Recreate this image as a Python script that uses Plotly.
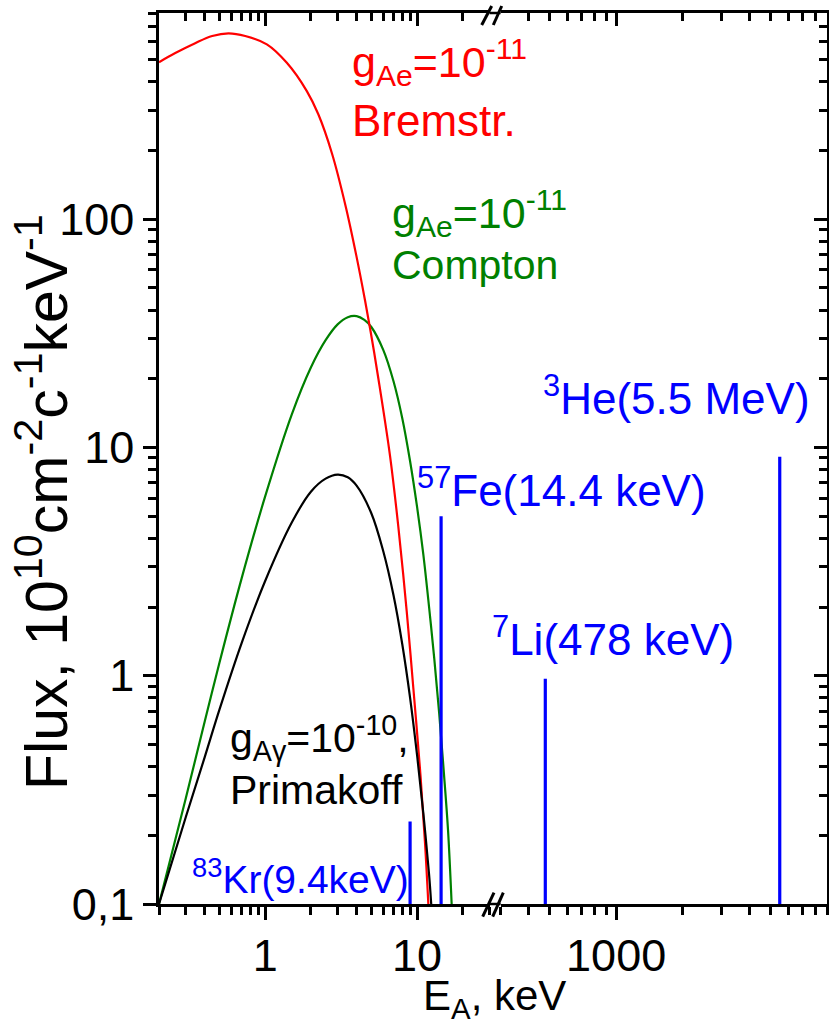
import math
import plotly.graph_objects as go

# ---------------- data ----------------
# Bremsstrahlung, g_Ae = 1e-11  (E in keV, flux in 1e10 cm^-2 s^-1 keV^-1)
brem_E = [0.2, 0.256, 0.346, 0.448, 0.574, 0.739, 1.026, 1.389, 1.881, 2.239, 2.754,
          3.388, 3.981, 4.55, 5.06, 5.56, 6.64, 7.53, 8.55, 9.46, 10.46, 11.29, 11.87]
brem_F = [487, 534, 590, 634, 651, 634, 583, 484, 364, 288, 194,
          114, 69.4, 43.9, 29.5, 20.1, 9.19, 4.5, 1.92, 0.879, 0.39, 0.184, 0.1]

# Compton, g_Ae = 1e-11
comp_E = [0.2, 0.3, 0.4, 0.5, 0.7, 1.0, 1.5, 2.0, 2.5, 3.0, 3.5, 4.0, 4.5, 5.0, 6.0,
          7.0, 8.0, 9.0, 10.0, 11.0, 12.0, 13.0, 14.0, 15.0, 16.0, 16.9]
comp_F = [0.1, 0.29, 0.63, 1.14, 2.67, 6.1, 14.0, 22.4, 29.5, 34.6, 37.2, 37.6, 36.2, 33.7, 26.7,
          19.5, 13.4, 8.7, 5.5, 3.4, 2.0, 1.18, 0.68, 0.38, 0.21, 0.1]

# Primakoff, g_Agamma = 1e-10
prim_E = [0.2, 0.3, 0.4, 0.5, 0.7, 1.0, 1.5, 2.0, 2.5, 3.0, 3.5, 4.0, 5.0, 6.0, 7.0,
          8.0, 9.0, 10.0, 11.0, 12.0, 12.4]
prim_F = [0.1, 0.24, 0.44, 0.71, 1.39, 2.6, 4.7, 6.4, 7.3, 7.6, 7.4, 6.8, 5.15, 3.5, 2.25,
          1.37, 0.80, 0.45, 0.25, 0.135, 0.1]

# monochromatic lines
lines_low_E = [9.0, 14.4]        # 83Kr, 57Fe
lines_low_F = [0.23, 5.0]
lines_high_E = [478, 5500]       # 7Li, 3He
lines_high_F = [0.97, 9.1]

# axis ranges / ticks
x_left_range = [0.2, 30]
x_right_range = [300, 9000]
y_range = [0.1, 800]
x_left_ticks = [1, 10]
x_right_ticks = [1000]
y_ticks = [0.1, 1, 10, 100]
y_ticktext = ["0,1", "1", "10", "100"]

FONT = "Liberation Sans, Arial, sans-serif"
RED, GREEN, BLACK, BLUE = "#ff0000", "#008000", "#000000", "#0000ff"

W, H = 829, 1020
L, R, T, B = 159, 2, 13, 116
PW, PH = W - L - R, H - T - B


def px(x):
    return (x - L) / PW


def py(y):
    return (H - B - y) / PH


DOM1 = [0, px(489.5)]
DOM2 = [px(500.6), 1]


def minor_vals(lo, hi):
    out = []
    d = 10 ** math.floor(math.log10(lo))
    while d <= hi:
        for k in range(1, 10):
            v = k * d
            if lo <= v <= hi:
                out.append(v)
        d *= 10
    return out


fig = go.Figure()

fig.add_trace(go.Scatter(x=comp_E, y=comp_F, mode="lines", line=dict(color=GREEN, width=2.2, shape="spline"),
                         xaxis="x", yaxis="y", showlegend=False))
fig.add_trace(go.Scatter(x=brem_E, y=brem_F, mode="lines", line=dict(color=RED, width=2.2, shape="spline"),
                         xaxis="x", yaxis="y", showlegend=False))
fig.add_trace(go.Scatter(x=prim_E, y=prim_F, mode="lines", line=dict(color=BLACK, width=2.2, shape="spline"),
                         xaxis="x", yaxis="y", showlegend=False))
for e, f in zip(lines_low_E, lines_low_F):
    fig.add_trace(go.Scatter(x=[e, e], y=[y_range[0], f], mode="lines", line=dict(color=BLUE, width=3.2),
                             xaxis="x", yaxis="y", showlegend=False))
for e, f in zip(lines_high_E, lines_high_F):
    fig.add_trace(go.Scatter(x=[e, e], y=[y_range[0], f], mode="lines", line=dict(color=BLUE, width=3.2),
                             xaxis="x2", yaxis="y", showlegend=False))
# empty traces to register mirror axes
for xa, ya in [("x3", "y"), ("x4", "y"), ("x2", "y2")]:
    fig.add_trace(go.Scatter(x=[None], y=[None], xaxis=xa, yaxis=ya, showlegend=False, hoverinfo="skip"))

LW = 2.5
tickfont = dict(family=FONT, size=45, color="black")
base = dict(type="log", showline=True, linecolor="black", linewidth=LW, showgrid=False, zeroline=False,
            tickcolor="black", tickwidth=LW, tickfont=tickfont)


def xaxis(dom, rng, ticks, side, tdir, labels, anchor, overlay=None):
    mv = [v for v in minor_vals(rng[0], rng[1]) if v not in ticks]
    d = dict(base, domain=dom, range=[math.log10(rng[0]), math.log10(rng[1])], tickmode="array",
             tickvals=ticks, ticktext=[f"{t:g}" for t in ticks], ticks=tdir, ticklen=13, side=side,
             showticklabels=labels, anchor=anchor, ticklabelstandoff=-3,
             minor=dict(tickmode="array", tickvals=mv, ticks=tdir, ticklen=8, tickwidth=LW,
                        tickcolor="black", showgrid=False))
    if overlay:
        d["overlaying"] = overlay
    return d


def yaxis(side, tdir, labels, anchor, overlay=None):
    mv = [v for v in minor_vals(y_range[0], y_range[1]) if v not in y_ticks]
    d = dict(base, range=[math.log10(y_range[0]), math.log10(y_range[1])], tickmode="array",
             tickvals=y_ticks, ticktext=y_ticktext, ticks=tdir, ticklen=13, side=side,
             showticklabels=labels, anchor=anchor, domain=[0, 1],
             minor=dict(tickmode="array", tickvals=mv, ticks=tdir, ticklen=8, tickwidth=LW,
                        tickcolor="black", showgrid=False))
    if overlay:
        d["overlaying"] = overlay
    return d


fig.update_layout(
    width=W, height=H, margin=dict(l=L, r=R, t=T, b=B),
    paper_bgcolor="white", plot_bgcolor="white",
    xaxis=xaxis(DOM1, x_left_range, x_left_ticks, "bottom", "outside", True, "y"),
    xaxis2=xaxis(DOM2, x_right_range, x_right_ticks, "bottom", "outside", True, "y"),
    xaxis3=xaxis(DOM1, x_left_range, x_left_ticks, "top", "inside", False, "y", "x"),
    xaxis4=xaxis(DOM2, x_right_range, x_right_ticks, "top", "inside", False, "y", "x2"),
    yaxis=yaxis("left", "outside", True, "x"),
    yaxis2=yaxis("right", "inside", False, "x2", "y"),
)

# axis lines across the break and break marks
shapes = []
for yy in [0, 1]:
    shapes.append(dict(type="line", xref="paper", yref="paper", x0=DOM1[1], x1=DOM2[0], y0=yy, y1=yy,
                       line=dict(color="black", width=LW)))
for (x0, y0, x1, y1) in [(482.7, 916.7, 494.0, 892.7), (492.7, 916.7, 503.3, 892.7),
                         (481.7, 25.0, 491.7, 6.0), (493.3, 25.0, 501.7, 6.0)]:
    shapes.append(dict(type="line", xref="paper", yref="paper", x0=px(x0), y0=py(y0), x1=px(x1), y1=py(y1),
                       line=dict(color="black", width=3)))
fig.update_layout(shapes=shapes)

ann = [
    ("g<sub>Ae</sub>=10<sup>-11</sup>", 350, 62, RED, 43),
    ("Bremstr.", 350, 120, RED, 44),
    ("g<sub>Ae</sub>=10<sup>-11</sup>", 390, 213, GREEN, 43),
    ("Compton", 390, 265, GREEN, 41),
    ("<sup>3</sup>He(5.5 MeV)", 541, 395, BLUE, 44),
    ("<sup>57</sup>Fe(14.4 keV)", 415, 487, BLUE, 44),
    ("<sup>7</sup>Li(478 keV)", 490, 637, BLUE, 44),
    ("g<sub>A\u03b3</sub>=10<sup>-10</sup>,", 228, 738, BLACK, 41),
    ("Primakoff", 228, 790, BLACK, 41),
    ("<sup>83</sup>Kr(9.4keV)", 190, 876, BLUE, 39),
]
for text, x, y, c, s in ann:
    fig.add_annotation(text=text, xref="paper", yref="paper", x=px(x), y=py(y), xanchor="left",
                       yanchor="middle", showarrow=False, font=dict(family=FONT, size=s, color=c))

fig.add_annotation(text="E<sub>A</sub>, keV", xref="paper", yref="paper", x=px(494), y=py(998),
                   xanchor="center", yanchor="middle", showarrow=False,
                   font=dict(family=FONT, size=42, color="black"))
fig.add_annotation(text="Flux, 10<sup>10</sup>cm<sup>-2</sup>c<sup>-1</sup>keV<sup>-1</sup>", xref="paper",
                   yref="paper", x=px(42), y=py(502), xanchor="center", yanchor="middle", textangle=-90,
                   showarrow=False, font=dict(family=FONT, size=59, color="black"))

fig.write_html("out.html", config={"displayModeBar": False},
               post_script="document.body.style.margin='0';document.body.style.overflow='hidden';")
